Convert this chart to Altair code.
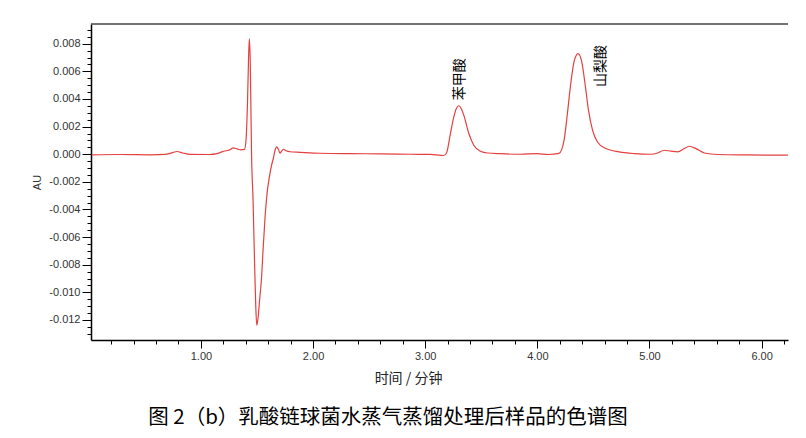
import altair as alt
import pandas as pd

# time (min) and absorbance (AU)
times = [0.026, 0.276, 0.544, 0.678, 0.741, 0.786, 0.839, 0.902, 1.079, 1.143,
         1.188, 1.223, 1.259, 1.286, 1.322, 1.357, 1.389, 1.402, 1.416, 1.424,
         1.432, 1.440, 1.445, 1.451, 1.465, 1.478, 1.489, 1.498, 1.509, 1.523,
         1.541, 1.554, 1.572, 1.590, 1.610, 1.630, 1.646, 1.661, 1.676, 1.691,
         1.706, 1.719, 1.735, 1.760, 1.795, 1.885, 2.063, 2.332, 2.600, 2.868,
         3.046, 3.163, 3.189, 3.225, 3.255, 3.279, 3.301, 3.324, 3.344, 3.389,
         3.433, 3.493, 3.556, 3.672, 3.851, 3.994, 4.101, 4.193, 4.238, 4.268,
         4.298, 4.327, 4.363, 4.396, 4.425, 4.456, 4.492, 4.536, 4.610, 4.729,
         4.863, 5.012, 5.072, 5.131, 5.191, 5.251, 5.310, 5.355, 5.415, 5.489,
         5.609, 5.877, 6.234]
au = [-0.00004, -0.00002, -0.00004, -0.00001, 0.0001, 0.0002, 0.00009, -0.00001, -0.00002, 0.00004,
      0.00017, 0.00025, 0.00032, 0.00046, 0.00039, 0.00032, 0.00035, 0.00101, 0.00391, 0.00667,
      0.00837, 0.00667, 0.00391, 0.00029, -0.00333, -0.00768, -0.01094, -0.01239, -0.01188, -0.01058,
      -0.00891, -0.00696, -0.00457, -0.00283, -0.00167, -0.0008, -0.00029, 0.00029, 0.00054, 0.00036,
      0.00007, 0.00022, 0.00036, 0.00025, 0.00018, 0.00014, 0.00007, 0.00004, 0.00003, 0.0,
      -0.00001, -0.00009, 0.00007, 0.0015, 0.0027, 0.00333, 0.00351, 0.00326, 0.00283, 0.0015,
      0.00065, 0.00022, 0.00009, 0.00004, 0.0, 0.00005, -0.00002, 0.00006, 0.00101, 0.00295,
      0.00512, 0.00669, 0.00728, 0.00669, 0.00512, 0.00319, 0.00174, 0.00089, 0.00041, 0.00017,
      0.00005, 0.0, 0.00009, 0.00029, 0.00022, 0.00017, 0.00041, 0.00058, 0.00041, 0.00009,
      -0.00002, -0.00005, -0.00007]

peak_names = ["苯甲酸", "山梨酸"]
peak_label_t = [3.306, 4.566]
peak_label_v = [0.00543, 0.00638]

x_ticks = [0.2, 0.4, 0.6, 0.8, 1.0, 1.2, 1.4, 1.6, 1.8, 2.0, 2.2, 2.4, 2.6, 2.8, 3.0,
           3.2, 3.4, 3.6, 3.8, 4.0, 4.2, 4.4, 4.6, 4.8, 5.0, 5.2, 5.4, 5.6, 5.8, 6.0, 6.2]
y_ticks = [-0.013, -0.0125, -0.012, -0.0115, -0.011, -0.0105, -0.01, -0.0095, -0.009,
           -0.0085, -0.008, -0.0075, -0.007, -0.0065, -0.006, -0.0055, -0.005, -0.0045,
           -0.004, -0.0035, -0.003, -0.0025, -0.002, -0.0015, -0.001, -0.0005, 0.0,
           0.0005, 0.001, 0.0015, 0.002, 0.0025, 0.003, 0.0035, 0.004, 0.0045, 0.005,
           0.0055, 0.006, 0.0065, 0.007, 0.0075, 0.008, 0.0085, 0.009]

x_title = "时间 / 分钟"
y_title = "AU"
caption = "图 2（b）乳酸链球菌水蒸气蒸馏处理后样品的色谱图"

W, H = 697, 316

df = pd.DataFrame({"t": times, "au": au})
labels_df = pd.DataFrame({"name": peak_names, "t": peak_label_t, "v": peak_label_v})
cap_df = pd.DataFrame({"caption": [caption]})

xscale = alt.Scale(domain=[0.02, 6.235], nice=False, zero=False)
yscale = alt.Scale(domain=[-0.01345, 0.00943], nice=False, zero=False)

x_axis = alt.Axis(
    values=x_ticks,
    labelExpr="abs(round(datum.value*5) % 5) == 0 ? format(datum.value, '.2f') : ''",
    tickSize={"condition": {"test": "abs(round(datum.value*5) % 5) == 0", "value": 8}, "value": 4},
    tickColor="#000", tickWidth=1,
    domainColor="#000", domainWidth=1.5,
    labelFont="Liberation Sans", labelFontSize=11, labelColor="#333",
    labelPadding=2, labelFlush=False, labelOverlap=False,
    title=x_title, titleFont="Noto Sans CJK SC", titleFontSize=14,
    titleFontWeight="normal", titleColor="#222",
    titleX=317, titleY=38, titleAlign="center", titleBaseline="middle",
    grid=False,
)
y_axis = alt.Axis(
    values=y_ticks,
    labelExpr="abs(round(datum.value*2000) % 4) == 0 ? replace(format(datum.value, '.3f'), '−', '-') : ''",
    tickSize={"condition": {"test": "abs(round(datum.value*2000) % 4) == 0", "value": 9}, "value": 4},
    tickColor="#000", tickWidth=1,
    domainColor="#000", domainWidth=1.5,
    labelFont="Liberation Sans", labelFontSize=11, labelColor="#333",
    labelPadding=2, labelFlush=False, labelOverlap=False,
    title=y_title, titleFont="Liberation Sans", titleFontSize=11,
    titleFontWeight="normal", titleColor="#333", titlePadding=6,
    grid=False,
)

line = alt.Chart(df).mark_line(color="#e4403f", strokeWidth=1.2, interpolate="monotone").encode(
    x=alt.X("t:Q", scale=xscale, axis=x_axis),
    y=alt.Y("au:Q", scale=yscale, axis=y_axis),
)

labels = alt.Chart(labels_df).mark_text(
    angle=270, font="Noto Sans CJK SC", fontSize=14, color="#000",
    align="center", baseline="middle",
).encode(
    x=alt.X("t:Q", scale=xscale, axis=x_axis),
    y=alt.Y("v:Q", scale=yscale, axis=y_axis),
    text="name:N",
)

top_line = alt.Chart(cap_df).mark_rule(color="#444", strokeWidth=1.5).encode(
    x=alt.value(0), x2=alt.value(W), y=alt.value(0)
)

cap = alt.Chart(cap_df).mark_text(
    font="Noto Sans CJK SC", fontSize=20.5, color="#000", align="center", baseline="middle"
).encode(
    x=alt.value(297), y=alt.value(394), text="caption:N"
)

chart = alt.layer(line, labels, top_line, cap).properties(
    width=W, height=H,
    background="white",
    autosize=alt.AutoSizeParams(type="none"),
    padding={"left": 83, "top": 16, "right": 10, "bottom": 90},
).configure_view(stroke=None)

chart.save("out.html", embed_options={"renderer": "svg", "actions": False})
